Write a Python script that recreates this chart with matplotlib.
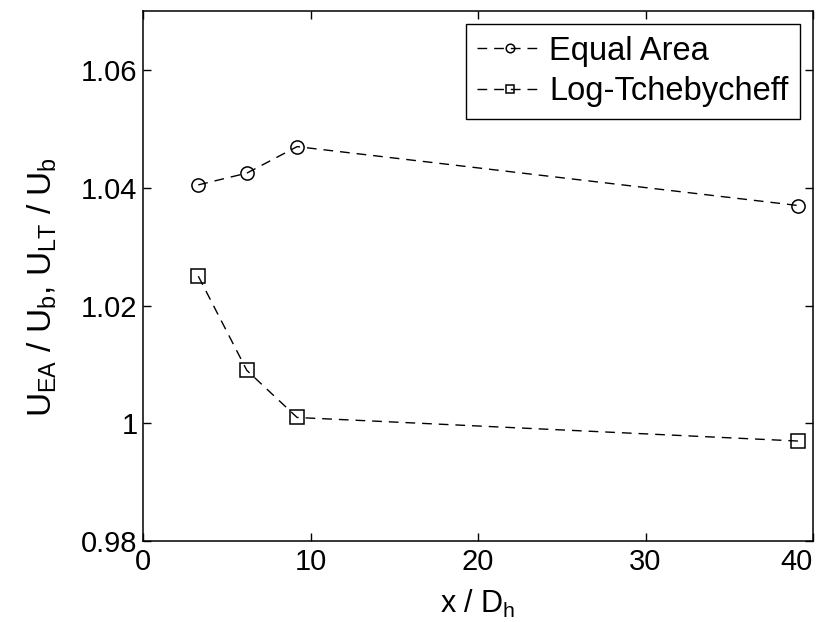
import matplotlib
matplotlib.use("Agg")
import matplotlib.pyplot as plt

plt.rcParams['font.family'] = ['Liberation Sans', 'DejaVu Sans']
plt.rcParams['mathtext.fontset'] = 'custom'
plt.rcParams['mathtext.rm'] = 'Liberation Sans'
plt.rcParams['mathtext.it'] = 'Liberation Sans'

x_pos = [3.3, 6.2, 9.2, 39.1]
equal_area = [1.0405, 1.0425, 1.047, 1.037]
log_tcheby = [1.025, 1.009, 1.001, 0.997]
x_ticks = [0, 10, 20, 30, 40]
y_ticks = [0.98, 1.0, 1.02, 1.04, 1.06]
y_tick_labels = ['0.98', '1', '1.02', '1.04', '1.06']

fig = plt.figure(figsize=(8.2, 6.22), dpi=100)
ax = fig.add_axes([0.1744, 0.130, 0.8171, 0.852])

ax.plot(x_pos, equal_area, linestyle=(0, (7, 5)), color='black', linewidth=1.0,
        marker='o', markersize=9.5, markerfacecolor='none', markeredgecolor='black',
        markeredgewidth=1.1, label='Equal Area')
ax.plot(x_pos, log_tcheby, linestyle=(0, (7, 5)), color='black', linewidth=1.0,
        marker='s', markersize=9.5, markerfacecolor='none', markeredgecolor='black',
        markeredgewidth=1.1, label='Log-Tchebycheff')

ax.set_xlim(0, 40)
ax.set_ylim(0.98, 1.07)
ax.set_xticks(x_ticks)
ax.set_yticks(y_ticks)
ax.set_yticklabels(y_tick_labels)
ax.tick_params(direction='in', top=True, right=True, labelsize=21, length=6, width=1)
ax.tick_params(axis='y', pad=4)
ax.tick_params(axis='x', pad=5)
xt = ax.get_xticklabels()
xt[-1].set_horizontalalignment('right')
for s in ax.spines.values():
    s.set_linewidth(1.1)

ax.set_xlabel(r'x / D$_\mathregular{h}$', fontsize=22)
ax.xaxis.set_label_coords(0.5, -0.088)
ax.set_ylabel(r'U$_\mathregular{EA}$ / U$_\mathregular{b}$, U$_\mathregular{LT}$ / U$_\mathregular{b}$',
              fontsize=24)
ax.yaxis.set_label_coords(-0.125, 0.48)

leg = ax.legend(loc='upper right', fontsize=23.5, frameon=True, fancybox=False,
                edgecolor='black', framealpha=1, handlelength=2.0, handletextpad=0.2,
                borderpad=0.35, labelspacing=0.3, borderaxespad=0.4, markerscale=0.65)
leg.get_frame().set_linewidth(1.0)

fig.savefig('out.png', dpi=100)
